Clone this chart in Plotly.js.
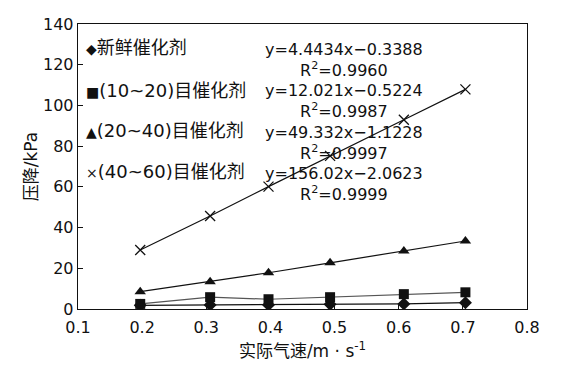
<!DOCTYPE html>
<html>
<head>
<meta charset="utf-8">
<script src="https://cdn.plot.ly/plotly-3.0.1.min.js"></script>
<style>html,body{margin:0;padding:0;background:#fff;}#chart{width:561px;height:378px;}</style>
</head>
<body>
<div id="chart"></div>
<script>
// Data
const velocity = [0.197, 0.306, 0.397, 0.493, 0.608, 0.704];
const fresh    = [1.8, 2.0, 2.0, 2.3, 2.5, 3.1];
const mesh1020 = [2.5, 5.8, 4.8, 5.8, 7.3, 8.2];
const mesh2040 = [8.5, 13.4, 17.8, 22.7, 28.5, 33.4];
const mesh4060 = [29.0, 45.7, 60.1, 75.2, 93.0, 107.9];

const legendSymbols = ["◆", "■", "▲", "×"];
const legendLabels = ["新鲜催化剂", "(10~20)目催化剂", "(20~40)目催化剂", "(40~60)目催化剂"];
const equations = ["y=4.4434x−0.3388", "y=12.021x−0.5224", "y=49.332x−1.1228", "y=156.02x−2.0623"];
const r2Values = ["0.9960", "0.9987", "0.9997", "0.9999"];

const xTicks = [0.1, 0.2, 0.3, 0.4, 0.5, 0.6, 0.7, 0.8];
const yTicks = [0, 20, 40, 60, 80, 100, 120, 140];

const FONT = "DejaVu Sans, Noto Sans CJK SC, sans-serif";

const traces = [
  {x: velocity, y: fresh, mode: "lines+markers", name: legendLabels[0],
   line: {color: "#111", width: 1.2},
   marker: {symbol: "diamond", size: 10, color: "#111"}},
  {x: velocity, y: mesh1020, mode: "lines+markers", name: legendLabels[1],
   line: {color: "#555", width: 1.2},
   marker: {symbol: "square", size: 10, color: "#111"}},
  {x: velocity, y: mesh2040, mode: "lines+markers", name: legendLabels[2],
   line: {color: "#111", width: 1.2},
   marker: {symbol: "triangle-up", size: 10, color: "#111"}},
  {x: velocity, y: mesh4060, mode: "lines+markers", name: legendLabels[3],
   line: {color: "#111", width: 1.2},
   marker: {symbol: "x-thin", size: 10, color: "#111", line: {color: "#111", width: 1.3}}}
];

const legendY = [0.916, 0.765, 0.625, 0.481];
const eqY = [0.875, 0.731, 0.584, 0.437];

const annotations = [];
legendLabels.forEach((t, i) => {
  annotations.push({xref: "paper", yref: "paper", x: 0.014, y: legendY[i],
    xanchor: "left", yanchor: "middle",
    text: "<span style=\"font-size:14px\">" + legendSymbols[i] + "</span>" + t, showarrow: false,
    font: {family: FONT, size: 18, color: "#111"}});
});
equations.forEach((t, i) => {
  annotations.push({xref: "paper", yref: "paper", x: 0.592, y: eqY[i],
    xanchor: "center", yanchor: "middle", align: "center",
    text: t + "<br>R<sup>2</sup>=" + r2Values[i], showarrow: false,
    font: {family: FONT, size: 16, color: "#111"}});
});

const layout = {
  width: 561, height: 378,
  margin: {l: 78, r: 34, t: 24, b: 69},
  paper_bgcolor: "#fff", plot_bgcolor: "#fff",
  showlegend: false,
  font: {family: FONT, size: 16, color: "#111"},
  xaxis: {
    range: [0.1, 0.8], tickvals: xTicks, ticktext: xTicks.map(v => v.toFixed(1)),
    ticks: "inside", ticklen: 4, tickwidth: 1, tickcolor: "#111",
    ticklabelstandoff: 3,
    showline: true, linecolor: "#111", linewidth: 1.3, mirror: true,
    showgrid: false, zeroline: false,
    tickfont: {family: FONT, size: 16, color: "#111"},
    title: {text: "实际气速/m · s<sup>-1</sup>", font: {family: FONT, size: 17, color: "#111"}, standoff: 9}
  },
  yaxis: {
    range: [0, 140], tickvals: yTicks, ticktext: yTicks.map(String),
    ticks: "inside", ticklen: 5, tickwidth: 1, tickcolor: "#111",
    showline: true, linecolor: "#111", linewidth: 1.3, mirror: true,
    showgrid: false, zeroline: false,
    tickfont: {family: FONT, size: 16, color: "#111"},
    title: {text: "压降/kPa", font: {family: FONT, size: 17, color: "#111"}, standoff: 1}
  },
  annotations: annotations
};

Plotly.newPlot("chart", traces, layout, {staticPlot: true, displayModeBar: false});
</script>
</body>
</html>
